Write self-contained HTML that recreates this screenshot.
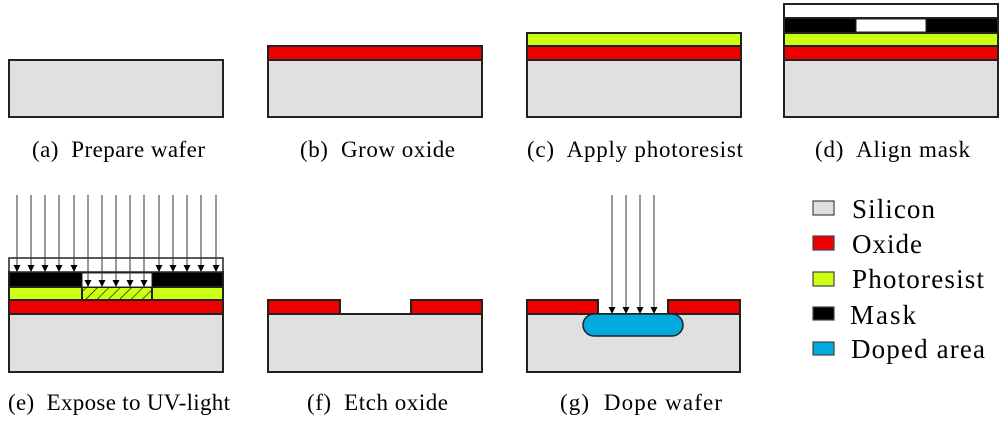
<!DOCTYPE html>
<html><head><meta charset="utf-8"><style>html,body{margin:0;padding:0;background:#fff}svg{display:block}</style></head><body>
<svg width="1000" height="422" viewBox="0 0 1000 422" xmlns="http://www.w3.org/2000/svg" font-family="Liberation Serif, serif">
<defs>
<marker id="ah" viewBox="0 0 10 10" refX="10" refY="5" markerWidth="7" markerHeight="7" markerUnits="userSpaceOnUse" orient="auto"><path d="M0,0L10,5L0,10z" fill="#000"/></marker>
<pattern id="hatch" width="8" height="8" patternUnits="userSpaceOnUse" patternTransform="rotate(45)"><rect width="8" height="8" fill="#ccff11"/><line x1="0" y1="0" x2="0" y2="8" stroke="#000" stroke-width="1.2"/></pattern>
</defs>
<g stroke="#222" stroke-width="2">
<rect x="9" y="60" width="214" height="57" fill="#e0e0e0"/>
<rect x="268" y="60" width="214" height="57" fill="#e0e0e0"/>
<rect x="268" y="46" width="214" height="14" fill="#ee0000"/>
<rect x="527" y="60" width="214" height="57" fill="#e0e0e0"/>
<rect x="527" y="46" width="214" height="14" fill="#ee0000"/>
<rect x="527" y="33" width="214" height="13" fill="#ccff11"/>
<rect x="784" y="60" width="214" height="57" fill="#e0e0e0"/>
<rect x="784" y="46" width="214" height="14" fill="#ee0000"/>
<rect x="784" y="33" width="214" height="13" fill="#ccff11"/>
<rect x="784" y="18" width="214" height="15" fill="#000"/>
<rect x="784" y="4" width="214" height="14" fill="#fff"/>
<rect x="856" y="19" width="70" height="13" fill="#fff" stroke-width="1"/>
<rect x="9" y="314" width="214" height="58" fill="#e0e0e0"/>
<rect x="9" y="300" width="214" height="14" fill="#ee0000"/>
<rect x="9" y="287" width="214" height="13" fill="#ccff11"/>
<rect x="82" y="287" width="70" height="13" fill="url(#hatch)"/>
<rect x="9" y="272" width="214" height="15" fill="#000"/>
<rect x="82" y="273" width="70" height="14" fill="#fff" stroke-width="1"/>
<rect x="9" y="258" width="214" height="14" fill="#fff" stroke-width="1.5"/>
<rect x="268" y="314" width="214" height="58" fill="#e0e0e0"/>
<rect x="268" y="300" width="72" height="14" fill="#ee0000"/>
<rect x="411" y="300" width="71" height="14" fill="#ee0000"/>
<rect x="527" y="314" width="213" height="58" fill="#e0e0e0"/>
<rect x="527" y="300" width="71" height="14" fill="#ee0000"/>
<rect x="668" y="300" width="72" height="14" fill="#ee0000"/>
<rect x="583" y="314" width="100" height="22" rx="11" fill="#00aadd" stroke-width="1.5"/>
</g>
<g stroke="#333" stroke-width="1" marker-end="url(#ah)">
<line x1="17" y1="195" x2="17" y2="272"/><line x1="31" y1="195" x2="31" y2="272"/><line x1="45" y1="195" x2="45" y2="272"/><line x1="59" y1="195" x2="59" y2="272"/><line x1="74" y1="195" x2="74" y2="272"/>
<line x1="88" y1="195" x2="88" y2="287"/><line x1="102" y1="195" x2="102" y2="287"/><line x1="116" y1="195" x2="116" y2="287"/><line x1="130" y1="195" x2="130" y2="287"/><line x1="144" y1="195" x2="144" y2="287"/>
<line x1="159" y1="195" x2="159" y2="272"/><line x1="173" y1="195" x2="173" y2="272"/><line x1="187" y1="195" x2="187" y2="272"/><line x1="201" y1="195" x2="201" y2="272"/><line x1="216" y1="195" x2="216" y2="272"/>
<line x1="612" y1="195" x2="612" y2="314"/><line x1="626" y1="195" x2="626" y2="314"/><line x1="640" y1="195" x2="640" y2="314"/><line x1="654" y1="195" x2="654" y2="314"/>
</g>
<g font-size="23" fill="#000" lengthAdjust="spacingAndGlyphs">
<text x="32" y="157" textLength="173" xml:space="preserve">(a)  Prepare wafer</text>
<text x="300" y="157" textLength="155" xml:space="preserve">(b)  Grow oxide</text>
<text x="527" y="157" textLength="216" xml:space="preserve">(c)  Apply photoresist</text>
<text x="815" y="157" textLength="155" xml:space="preserve">(d)  Align mask</text>
<text x="8" y="410" textLength="222" xml:space="preserve">(e)  Expose to UV-light</text>
<text x="307" y="410" textLength="141" xml:space="preserve">(f)  Etch oxide</text>
<text x="560" y="410" textLength="162" xml:space="preserve">(g)  Dope wafer</text>
</g>
<g stroke="#444" stroke-width="1.2">
<rect x="813" y="201" width="21" height="14" fill="#e0e0e0"/>
<rect x="813" y="236" width="21" height="14" fill="#ee0000"/>
<rect x="813" y="272" width="21" height="14" fill="#ccff11"/>
<rect x="813" y="307" width="21" height="13" fill="#000"/>
<rect x="813" y="342" width="21" height="13" fill="#00aadd"/>
</g>
<g font-size="27" fill="#000" lengthAdjust="spacingAndGlyphs">
<text x="852" y="218" textLength="83">Silicon</text>
<text x="852" y="253" textLength="70">Oxide</text>
<text x="852" y="288" textLength="132">Photoresist</text>
<text x="850" y="324" textLength="66">Mask</text>
<text x="851" y="358" textLength="134">Doped area</text>
</g>
</svg>
</body></html>
